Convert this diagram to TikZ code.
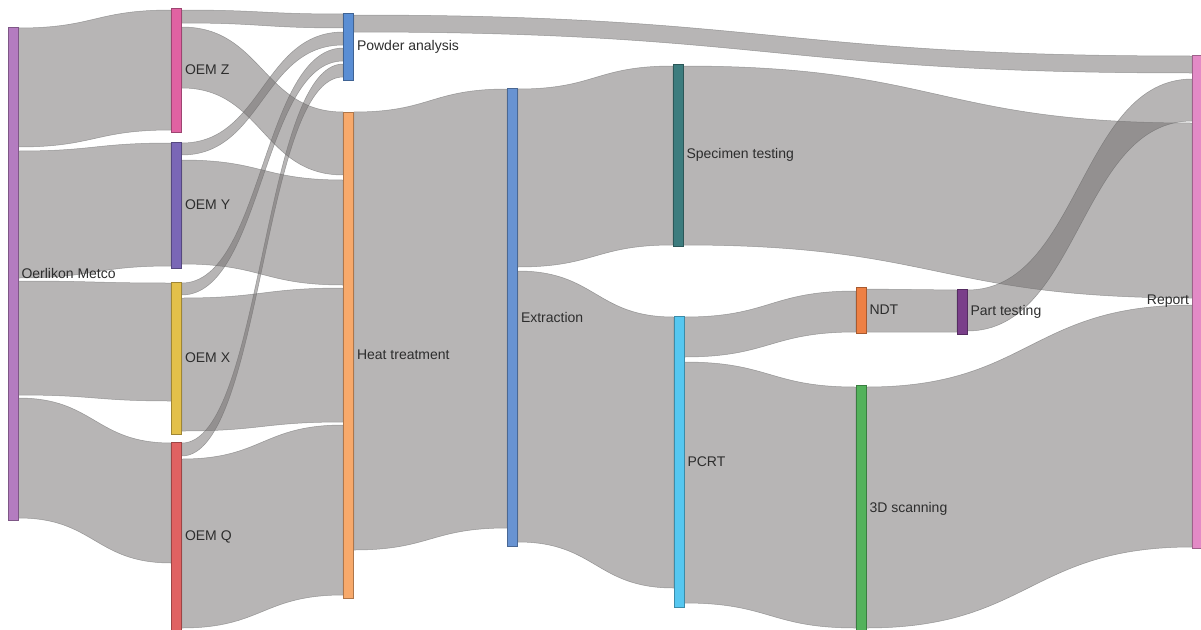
\documentclass[tikz,border=0pt]{standalone}
\usepackage{fontspec}
\setmainfont{Liberation Sans}
\usetikzlibrary{calc,backgrounds}

\definecolor{colom}{HTML}{B47CC0}
\definecolor{colz}{HTML}{E062A2}
\definecolor{coly}{HTML}{7A67B6}
\definecolor{colx}{HTML}{E3C04A}
\definecolor{colq}{HTML}{E06262}
\definecolor{colpow}{HTML}{5A8ED4}
\definecolor{colheat}{HTML}{F7A96B}
\definecolor{colext}{HTML}{6893D2}
\definecolor{colspec}{HTML}{3D7C7E}
\definecolor{colpcrt}{HTML}{56C7F0}
\definecolor{colndt}{HTML}{EE8044}
\definecolor{colpart}{HTML}{7A3F8A}
\definecolor{colscan}{HTML}{53B25B}
\definecolor{colrep}{HTML}{E38AC6}
\definecolor{linkgray}{RGB}{112,108,108}
\definecolor{txtgray}{RGB}{45,45,45}

% band from node #1 (rows #2..#3) to node #4 (rows #5..#6)
\newcommand{\sankeylink}[6]{%
  \path[link] let \p1=(#1.east), \p2=(#4.west), \p3=($(\p1)!0.5!(\p2)$) in
    (\x1,-#2pt) .. controls (\x3,-#2pt) and (\x3,-#5pt) .. (\x2,-#5pt)
    -- (\x2,-#6pt) .. controls (\x3,-#6pt) and (\x3,-#3pt) .. (\x1,-#3pt) -- cycle;}

\begin{document}
\begin{tikzpicture}[x=1pt, y=-1pt]
\tikzstyle{link}=[fill=linkgray, fill opacity=0.5, draw=black!60, draw opacity=0.55, line width=0.5pt]
\tikzstyle{every label}=[font=\fontsize{14}{16}\selectfont, text=txtgray, inner sep=3pt]
\tikzset{bar/.style={draw=#1!70!black, fill=#1, rectangle, minimum width=10pt, inner sep=0pt, line width=0.6pt, label distance=0pt}}

\useasboundingbox (0,0) rectangle (1201,629);

\draw (13,273.5) node[bar=colom, minimum height=493pt, label=right:Oerlikon Metco] (om) {};
\draw (176.5,70) node[bar=colz, minimum height=124pt, label=right:OEM Z] (oemz) {};
\draw (176.5,205) node[bar=coly, minimum height=126pt, label=right:OEM Y] (oemy) {};
\draw (176.5,358) node[bar=colx, minimum height=152pt, label=right:OEM X] (oemx) {};
\draw (176.5,537) node[bar=colq, minimum height=190pt, label=right:OEM Q] (oemq) {};
\draw (348.5,46.5) node[bar=colpow, minimum height=67pt, label=right:Powder analysis] (powder) {};
\draw (348.5,355) node[bar=colheat, minimum height=486pt, label=right:Heat treatment] (heat) {};
\draw (512.5,317) node[bar=colext, minimum height=458pt, label=right:Extraction] (extraction) {};
\draw (678,155) node[bar=colspec, minimum height=182pt, label=right:Specimen testing] (specimen) {};
\draw (679,461.5) node[bar=colpcrt, minimum height=291pt, label=right:PCRT] (pcrt) {};
\draw (861,310) node[bar=colndt, minimum height=46pt, label=right:NDT] (ndt) {};
\draw (962,311.5) node[bar=colpart, minimum height=45pt, label=right:Part testing] (parttest) {};
\draw (861,509) node[bar=colscan, minimum height=248pt, label=right:3D scanning] (scan3d) {};
\draw (1197.5,301.5) node[bar=colrep, minimum height=493pt, label=left:Report] (report) {};

\begin{pgfonlayer}{background}
\sankeylink{om}{28}{147}{oemz}{10}{130}
\sankeylink{om}{151}{278}{oemy}{143}{266}
\sankeylink{om}{281}{395}{oemx}{283}{401}
\sankeylink{om}{398}{518}{oemq}{443}{563}
\sankeylink{oemz}{10}{23}{powder}{14}{28}
\sankeylink{oemy}{143}{155}{powder}{32}{45}
\sankeylink{oemx}{283}{295}{powder}{48}{61}
\sankeylink{oemq}{443}{456}{powder}{64}{77}
\sankeylink{oemz}{27}{88}{heat}{112}{175}
\sankeylink{oemy}{160}{264}{heat}{180}{285}
\sankeylink{oemx}{298}{431}{heat}{288}{422}
\sankeylink{oemq}{459}{628}{heat}{425}{595}
\sankeylink{powder}{15}{32}{report}{56}{73}
\sankeylink{heat}{112}{550}{extraction}{89}{528}
\sankeylink{extraction}{89}{267}{specimen}{66}{245}
\sankeylink{extraction}{271}{542}{pcrt}{317}{588}
\sankeylink{specimen}{66}{245}{report}{123}{298}
\sankeylink{pcrt}{317}{357}{ndt}{291}{332}
\sankeylink{pcrt}{362}{603}{scan3d}{387}{628}
\sankeylink{ndt}{289}{332}{parttest}{290}{332}
\sankeylink{parttest}{290}{331}{report}{79}{121}
\sankeylink{scan3d}{387}{628}{report}{305}{547}
\end{pgfonlayer}
\end{tikzpicture}
\end{document}
